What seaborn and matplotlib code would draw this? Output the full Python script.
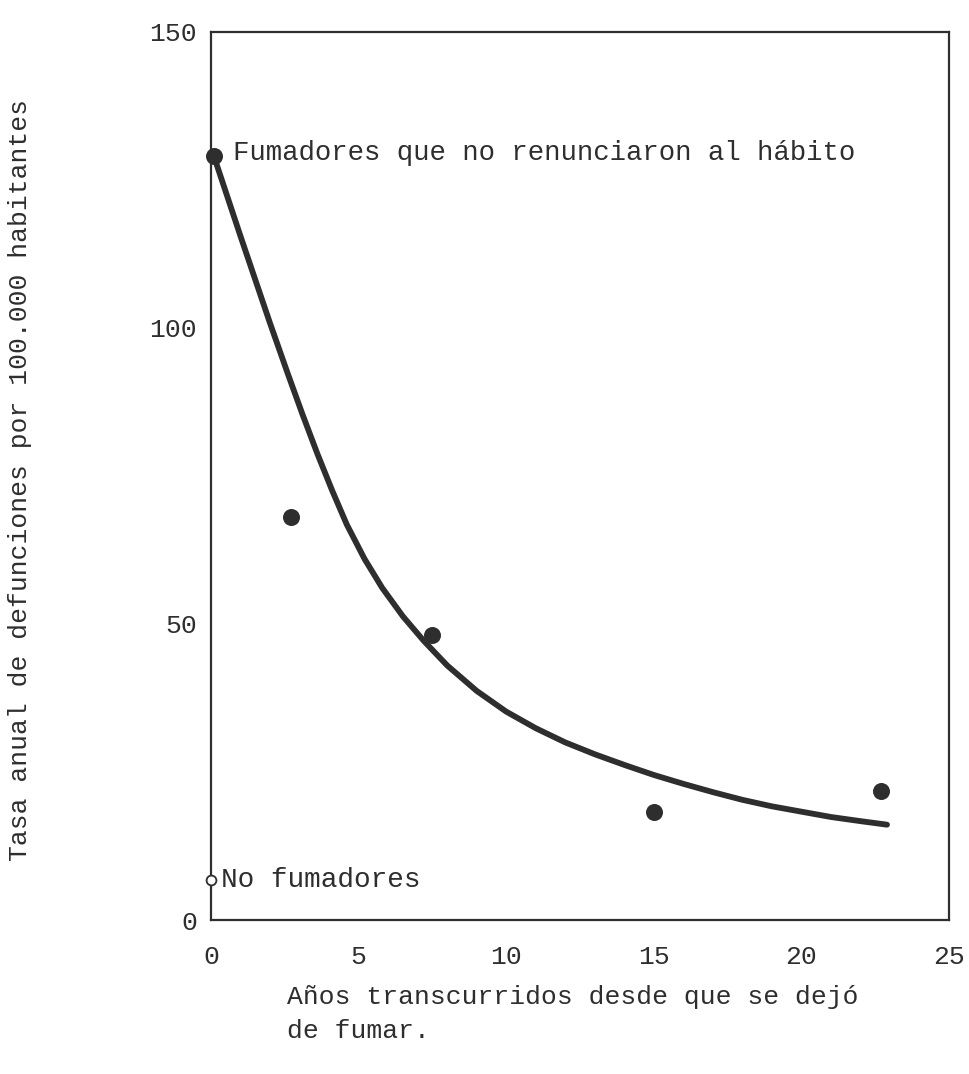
import matplotlib
matplotlib.use("Agg")
import matplotlib.pyplot as plt
import seaborn as sns
import pandas as pd


# Data
years_points = [0.1, 2.7, 7.5, 15.0, 22.7]
rate_points = [129.0, 68.1, 48.2, 18.2, 21.8]

years_curve = [0.1, 1.0, 2.0, 2.6, 3.1, 3.6, 4.1, 4.6, 5.2, 5.8, 6.5, 7.2, 8.0, 9.0,
               10.0, 11.0, 12.0, 13.0, 14.0, 15.0, 16.0, 17.0, 18.0, 19.0, 20.0,
               21.0, 22.0, 22.9]
rate_curve = [129.0, 115.5, 100.8, 92.3, 85.4, 78.8, 72.6, 66.8, 61.0, 56.1, 51.3,
              47.2, 43.0, 38.7, 35.2, 32.4, 30.0, 28.0, 26.2, 24.5, 23.0, 21.6,
              20.3, 19.2, 18.3, 17.4, 16.7, 16.1]

nonsmoker_year = [0.0]
nonsmoker_rate = [6.7]

x_ticks = [0, 5, 10, 15, 20, 25]
y_ticks = [0, 50, 100, 150]

df_points = pd.DataFrame({"years": years_points, "rate": rate_points})
df_curve = pd.DataFrame({"years": years_curve, "rate": rate_curve})
df_non = pd.DataFrame({"years": nonsmoker_year, "rate": nonsmoker_rate})

# Style
sns.set_style("white")
plt.rcParams["font.family"] = ["Liberation Mono", "DejaVu Sans Mono"]
ink = "#2e2e2e"

fig = plt.figure(figsize=(9.7, 10.74), dpi=100)
ax = fig.add_axes([211 / 970, 1 - 920 / 1074, (949 - 211) / 970, (920 - 32) / 1074])

# Draw curve, points and non-smoker marker
sns.lineplot(data=df_curve, x="years", y="rate", ax=ax, color=ink, linewidth=4.2,
             sort=False, solid_capstyle="round", solid_joinstyle="round", clip_on=False)
sns.scatterplot(data=df_points, x="years", y="rate", ax=ax, color=ink, s=150,
                edgecolor=ink, linewidth=0, zorder=5, clip_on=False)
sns.scatterplot(data=df_non, x="years", y="rate", ax=ax, facecolor="white", s=50,
                edgecolor=ink, linewidth=1.3, zorder=5, clip_on=False)

ax.set_xlim(0, 25)
ax.set_ylim(0, 150)

# Labels on major ticks, visible tick marks only on minor ones
ax.set_xticks(x_ticks)
ax.set_yticks(y_ticks)
ax.set_xticks([5, 10, 15, 20], minor=True)
ax.set_yticks([50, 100], minor=True)
ax.tick_params(axis="both", which="major", length=0, labelsize=19, colors=ink)
ax.tick_params(axis="x", which="major", pad=18)
ax.tick_params(axis="y", which="major", pad=10)
ax.tick_params(axis="x", which="minor", direction="out", length=10, width=1.5,
               color=ink, bottom=True)
ax.tick_params(axis="y", which="minor", direction="inout", length=14, width=1.5,
               color=ink, left=True, right=True)

for side in ["left", "right", "top", "bottom"]:
    ax.spines[side].set_visible(True)
    ax.spines[side].set_linewidth(1.6)
    ax.spines[side].set_color(ink)

ax.set_xlabel("")
ax.set_ylabel("")

# Annotations
ax.text(0.75, 129.5, "Fumadores que no renunciaron al hábito", fontsize=19.7,
        color=ink, va="center", ha="left")
ax.text(0.35, 6.7, "No fumadores", fontsize=20, color=ink, va="center", ha="left")

fig.text(20 / 970, 1 - 480 / 1074, "Tasa anual de defunciones por 100.000 habitantes",
         rotation=90, fontsize=19, color=ink, va="center", ha="center")
fig.text(287 / 970, 1 - 985 / 1074, "Años transcurridos desde que se dejó\nde fumar.",
         fontsize=19, color=ink, va="top", ha="left", linespacing=1.5)

fig.savefig("out.png", dpi=100, facecolor="white")
